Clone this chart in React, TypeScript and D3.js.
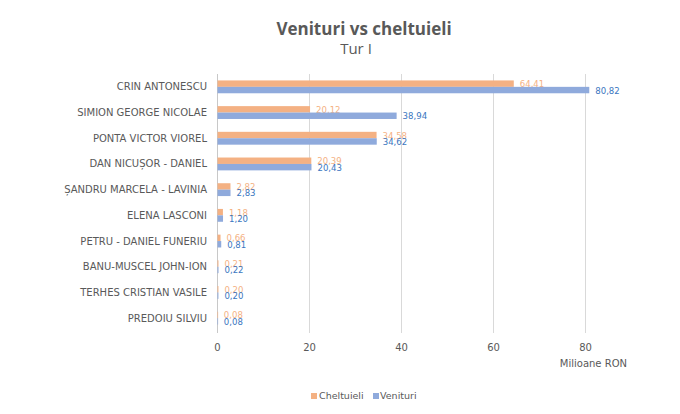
import React from "react";
import * as d3 from "d3";

const categories = [
  "CRIN ANTONESCU",
  "SIMION GEORGE NICOLAE",
  "PONTA VICTOR VIOREL",
  "DAN NICUȘOR - DANIEL",
  "ȘANDRU MARCELA - LAVINIA",
  "ELENA LASCONI",
  "PETRU - DANIEL FUNERIU",
  "BANU-MUSCEL JOHN-ION",
  "TERHES CRISTIAN VASILE",
  "PREDOIU SILVIU",
];
const cheltuieli = [64.41, 20.12, 34.58, 20.39, 2.82, 1.18, 0.66, 0.21, 0.2, 0.08];
const venituri = [80.82, 38.94, 34.62, 20.43, 2.83, 1.2, 0.81, 0.22, 0.2, 0.08];
const xTicks = [0, 20, 40, 60, 80];
const seriesNames = ["Cheltuieli", "Venituri"];

const W = 680;
const H = 414;
const TITLE_FONT = "'Open Sans', 'Liberation Sans', sans-serif";
const FONT = "'DejaVu Sans', Verdana, sans-serif";
const COND = "'DejaVu Sans Condensed', 'DejaVu Sans', sans-serif";
const ORANGE = "#F4B183";
const BLUE = "#8FAADC";
const ORANGE_TXT = "#F4B183";
const BLUE_TXT = "#3A76C0";
const GRAY = "#595959";

export default function App() {
  const x = d3.scaleLinear().domain([0, 80]).range([217.5, 585.5]);
  const y = d3.scaleBand<string>().domain(categories).range([74, 331]).paddingInner(0.5).paddingOuter(0.25);
  const sub = d3.scaleBand<string>().domain(seriesNames).range([0, y.bandwidth()]);
  const fmt = (v: number) => v.toFixed(2).replace(".", ",");
  const series = [
    { name: "Cheltuieli", values: cheltuieli, color: ORANGE, txt: ORANGE_TXT },
    { name: "Venituri", values: venituri, color: BLUE, txt: BLUE_TXT },
  ];
  return (
    <svg width={W} height={H} style={{ position: "absolute", left: 0, top: 0, background: "#fff" }} fontFamily={FONT}>
      <rect width={W} height={H} fill="#fff" />
      <text x={364} y={35} textAnchor="middle" fontSize={17} fontWeight="bold" fill={GRAY} fontFamily={TITLE_FONT}>
        Venituri vs cheltuieli
      </text>
      <text x={356} y={54} textAnchor="middle" fontSize={15} fill={GRAY} fontFamily={TITLE_FONT}>
        Tur I
      </text>
      {xTicks.map((t) => (
        <g key={t}>
          {t > 0 && <line x1={x(t)} x2={x(t)} y1={74} y2={333} stroke="#D9D9D9" strokeWidth={1} />}
          <text x={x(t)} y={351} textAnchor="middle" fontSize={10} fill={GRAY}>
            {t}
          </text>
        </g>
      ))}
      <line x1={x(0)} x2={x(0)} y1={74} y2={333} stroke="#C8C8C8" strokeWidth={1} />
      {categories.map((c) => (
        <text key={c} x={207} y={(y(c) ?? 0) + y.bandwidth() / 2 + 3.5} textAnchor="end" fontSize={10} fill={GRAY}>
          {c}
        </text>
      ))}
      {series.map((s) =>
        categories.map((c, i) => {
          const y0 = (y(c) ?? 0) + (sub(s.name) ?? 0);
          const v = s.values[i];
          return (
            <g key={s.name + c}>
              <rect x={x(0)} y={y0} width={Math.max(x(v) - x(0), 0.6)} height={sub.bandwidth()} fill={s.color} />
              <text x={x(v) + 6} y={y0 + sub.bandwidth() / 2 + 3.5} fontSize={9.5} fill={s.txt} fontFamily={COND}>
                {fmt(v)}
              </text>
            </g>
          );
        })
      )}
      <text x={627} y={367} textAnchor="end" fontSize={10} fill={GRAY}>
        Milioane RON
      </text>
      <g>
        <rect x={311} y={393} width={6} height={6} fill={ORANGE} />
        <text x={319} y={399} fontSize={9.5} fill={GRAY}>Cheltuieli</text>
        <rect x={373} y={393} width={6} height={6} fill={BLUE} />
        <text x={380} y={399} fontSize={9.5} fill={GRAY}>Venituri</text>
      </g>
    </svg>
  );
}
